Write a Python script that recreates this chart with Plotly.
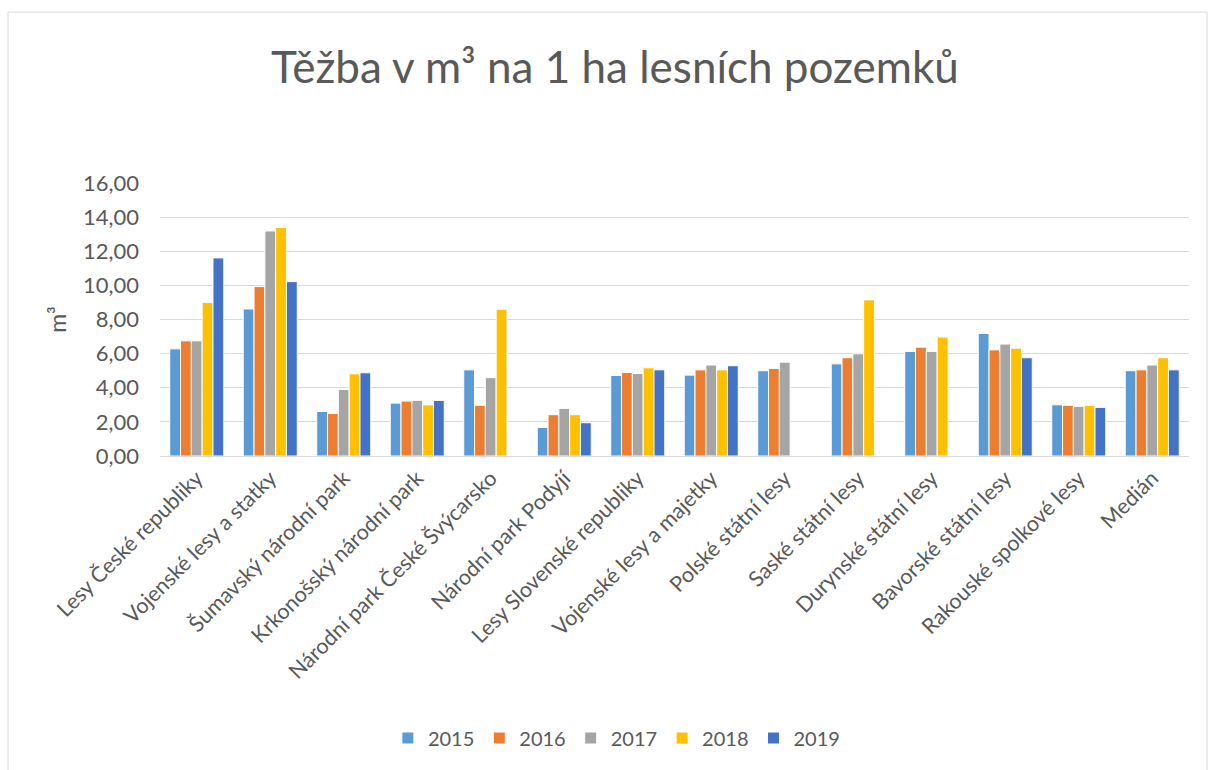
import plotly.graph_objects as go

categories = ["Lesy České republiky", "Vojenské lesy a statky", "Šumavský národní park",
              "Krkonošský národní park", "Národní park České Švýcarsko", "Národní park Podyjí",
              "Lesy Slovenské republiky", "Vojenské lesy a majetky", "Polské státní lesy",
              "Saské státní lesy", "Durynské státní lesy", "Bavorské státní lesy",
              "Rakouské spolkové lesy", "Medián"]

y2015 = [6.28, 8.62, 2.61, 3.10, 5.05, 1.68, 4.72, 4.74, 5.00, 5.40, 6.13, 7.18, 3.00, 5.00]
y2016 = [6.75, 9.93, 2.50, 3.22, 2.97, 2.42, 4.90, 5.05, 5.13, 5.76, 6.38, 6.22, 2.97, 5.05]
y2017 = [6.75, 13.19, 3.90, 3.26, 4.59, 2.79, 4.84, 5.33, 5.50, 5.99, 6.13, 6.56, 2.91, 5.33]
y2018 = [9.00, 13.39, 4.82, 3.00, 8.60, 2.42, 5.17, 5.05, None, 9.15, 6.97, 6.32, 2.97, 5.76]
y2019 = [11.61, 10.22, 4.88, 3.26, None, 1.95, 5.05, 5.29, None, None, None, 5.76, 2.85, 5.05]

series = [("2015", y2015, "#5B9BD5"), ("2016", y2016, "#ED7D31"), ("2017", y2017, "#A5A5A5"),
          ("2018", y2018, "#FFC000"), ("2019", y2019, "#4472C4")]

FONT = "Lato, Carlito, Calibri, sans-serif"
GREY = "#595959"

fig = go.Figure()
for name, vals, col in series:
    fig.add_trace(go.Bar(name=name, x=categories, y=vals, marker_color=col,
                         marker_line_color="white", marker_line_width=1))

fig.update_layout(
    width=1208, height=770,
    paper_bgcolor="white", plot_bgcolor="white",
    barmode="group", bargap=0.265, bargroupgap=0,
    separators=", ",
    margin=dict(l=160, r=19, t=183, b=314, autoexpand=False),
    font=dict(family=FONT, color=GREY, size=16),
    title=dict(text="Těžba v m³ na 1 ha lesních pozemků", x=0.509, xanchor="center",
               y=0.912, yanchor="middle", font=dict(size=44, color=GREY, family=FONT)),
    legend=dict(orientation="h", x=0.444, xanchor="center", y=-1.033, yanchor="middle",
                font=dict(size=20, color=GREY), traceorder="normal", itemwidth=30),
    showlegend=True,
)
fig.update_yaxes(range=[0, 16], dtick=2, tickformat=".2f", showgrid=True,
                 gridcolor="#D9D9D9", gridwidth=1.3, zeroline=False, showline=False,
                 tickfont=dict(size=22, color=GREY), automargin=False,
                 ticklabelstandoff=20,
                 title=dict(text="m³", font=dict(size=23, color=GREY), standoff=9),
                 ticks="", ticklen=0)
fig.update_xaxes(tickangle=-45, showline=True, linecolor="#D9D9D9", linewidth=1.3,
                 tickfont=dict(size=21.5, color=GREY), ticks="", automargin=False)

fig.add_shape(type="rect", xref="paper", yref="paper", x0=-0.1477, x1=1.0175,
              y0=-1.25, y1=1.626, line=dict(color="#D9D9D9", width=1), layer="below")

fig.write_html("out.html", config={"displayModeBar": False},
               post_script="document.body.style.margin='0';")
